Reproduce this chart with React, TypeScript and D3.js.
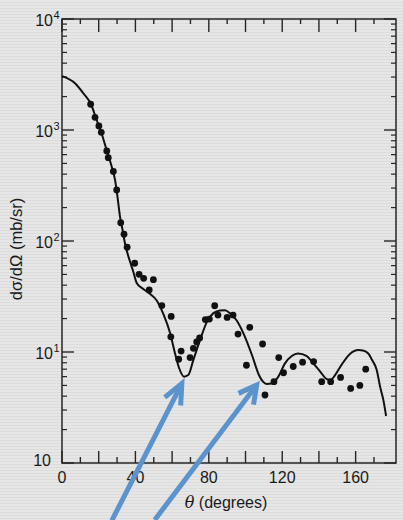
import React from "react";
import * as d3 from "d3";

// Observed cross sections (points)
const thetaObs = [15.6, 18.0, 20.1, 21.4, 24.4, 25.2, 28.0, 29.8, 32.0, 33.8, 35.5, 39.6, 42.0, 44.5, 49.8, 47.5, 54.4, 59.5, 59.3, 64.9, 63.6, 69.8, 71.6, 73.4, 75.0, 78.1, 80.3, 83.2, 85.0, 90.0, 93.2, 95.9, 102.3, 100.5, 109.3, 110.6, 115.5, 118.1, 120.7, 126.0, 131.1, 137.1, 141.5, 146.4, 151.8, 157.3, 162.3, 165.5];
const sigmaObs = [1706, 1301, 1087, 953, 647, 563, 423, 288, 146, 115, 87.8, 63, 50.1, 46.1, 44.8, 36.2, 26.2, 20.9, 13.7, 10.2, 8.6, 8.9, 10.8, 12.3, 13.4, 19.6, 19.8, 26.1, 21.5, 20.5, 21.5, 14.5, 16.7, 7.6, 11.8, 4.1, 5.4, 8.9, 6.5, 7.4, 8.1, 8.2, 5.4, 5.4, 5.9, 4.7, 5.0, 7.0];

// Calculated curve
const thetaCalc = [0, 7.1, 11.6, 15.8, 18.9, 21.5, 24.4, 27.1, 28.9, 30.1, 31.6, 33.0, 34.3, 37.1, 38.9, 40.7, 44.3, 48.0, 51.6, 55.2, 58.9, 61.6, 63.9, 66.5, 68.8, 71.6, 75.2, 78.9, 82.5, 86.1, 88.8, 91.6, 95.2, 98.8, 103.6, 107.3, 109.5, 111.6, 114.3, 117.9, 121.5, 125.2, 128.6, 133.4, 136.9, 140.6, 144.3, 146.4, 148.8, 152.4, 156.9, 161.5, 164.0, 166.9, 168.9, 171.5, 173.3, 175.1, 176.6];
const sigmaCalc = [3060, 2637, 2143, 1706, 1230, 940, 653, 467, 355, 260, 166, 126, 95.3, 65, 52.6, 41.9, 37.0, 33.3, 29.1, 22.0, 14.8, 9.7, 7.1, 6.0, 6.2, 8.5, 12.8, 18.6, 22.4, 23.7, 23.8, 22.3, 19.2, 14.8, 9.3, 6.2, 5.4, 5.15, 5.2, 6.0, 7.9, 9.2, 9.7, 9.2, 7.9, 6.7, 5.7, 5.6, 6.2, 7.7, 9.6, 10.4, 10.3, 9.7, 8.5, 6.9, 4.9, 3.7, 2.65];

// Axis ticks / labels
const xMajorTicks = [0, 20, 40, 60, 80, 100, 120, 140, 160];
const xMinorTicks = [10, 30, 50, 70, 90, 110, 130, 150, 170];
const xTickLabels = [0, 40, 80, 120, 160];
const yDecades = [1, 10, 100, 1000, 10000];
const yDecadeLabels = [
  { base: "10", sup: "" },
  { base: "10", sup: "1" },
  { base: "10", sup: "2" },
  { base: "10", sup: "3" },
  { base: "10", sup: "4" },
];
// Arrows point at the two minima of the calculated curve
const arrowTips = [
  { theta: 65.3, sigma: 5.2 },
  { theta: 106.1, sigma: 5.05 },
];

const W = 403;
const H = 520;
const L = 62, R = 396, T = 19, B = 463;
const FONT = "'Liberation Sans', Arial, Helvetica, sans-serif";
const AXIS = "#262626";
const ARROW = "#5b93cd";

export default function App() {
  const x = d3.scaleLinear().domain([0, 182]).range([L, R]);
  const y = d3.scaleLog().domain([1, 1e4]).range([B, T]);

  const minorY: number[] = [];
  for (let e = 0; e < 4; e++) {
    for (let m = 2; m <= 9; m++) minorY.push(m * Math.pow(10, e));
  }

  const line = d3
    .line<number>()
    .x((_, i) => x(thetaCalc[i]))
    .y((d) => y(d))
    .curve(d3.curveMonotoneX);

  const arrowDefs = [
    { tail: [-70, 137], a1: 22, a2: 22, spread: 24 },
    { tail: [-102, 135], a1: 20, a2: 20, spread: 28 },
  ];

  return (
    <svg
      width={W}
      height={H}
      style={{ position: "absolute", left: 0, top: 0, display: "block" }}
      fontFamily={FONT}
    >
      <defs>
        <pattern id="paper" width="6" height="3" patternUnits="userSpaceOnUse">
          <rect width="6" height="3" fill="#e6e6e6" />
          <rect y="2" width="6" height="1" fill="#dcdcdc" />
        </pattern>
      </defs>
      <rect width={W} height={H} fill="url(#paper)" />

      {/* frame */}
      <rect x={L} y={T} width={R - L} height={B - T} fill="none" stroke={AXIS} strokeWidth={1.5} />

      {/* x ticks, bottom & top */}
      {xMajorTicks.map((t) => (
        <g key={"xM" + t} stroke={AXIS} strokeWidth={1.4}>
          <line x1={x(t)} x2={x(t)} y1={B} y2={B - 12} />
          <line x1={x(t)} x2={x(t)} y1={T} y2={T + 13} />
        </g>
      ))}
      {xMinorTicks.map((t) => (
        <g key={"xm" + t} stroke={AXIS} strokeWidth={1.4}>
          <line x1={x(t)} x2={x(t)} y1={B} y2={B - 6} />
          <line x1={x(t)} x2={x(t)} y1={T} y2={T + 5} />
        </g>
      ))}

      {/* y ticks, left & right */}
      {yDecades.map((v) => (
        <g key={"yM" + v} stroke={AXIS} strokeWidth={1.4}>
          <line x1={L} x2={L + 12} y1={y(v)} y2={y(v)} />
          <line x1={R} x2={R - 12} y1={y(v)} y2={y(v)} />
        </g>
      ))}
      {minorY.map((v) => (
        <g key={"ym" + v} stroke={AXIS} strokeWidth={1.2}>
          <line x1={L} x2={L + 5} y1={y(v)} y2={y(v)} />
          <line x1={R} x2={R - 5} y1={y(v)} y2={y(v)} />
        </g>
      ))}

      {/* x tick labels */}
      {xTickLabels.map((t) => (
        <text key={"xl" + t} x={x(t)} y={483} textAnchor="middle" fontSize={16} fill="#1a1a1a">
          {t}
        </text>
      ))}

      {/* y tick labels */}
      {yDecades.map((v, i) =>
        yDecadeLabels[i].sup ? (
          <g key={"yl" + v} fill="#1a1a1a">
            <text x={53} y={y(v) + 6.5} textAnchor="end" fontSize={16}>
              {yDecadeLabels[i].base}
            </text>
            <text x={53.5} y={y(v) - 0.5} fontSize={11}>
              {yDecadeLabels[i].sup}
            </text>
          </g>
        ) : (
          <text key={"yl" + v} x={51} y={y(v) + 3} textAnchor="end" fontSize={16} fill="#1a1a1a">
            {yDecadeLabels[i].base}
          </text>
        )
      )}

      {/* axis titles */}
      <text
        transform={`translate(22, 249) rotate(-90)`}
        textAnchor="middle"
        fontSize={16.5}
        fill="#1a1a1a"
      >
        dσ/dΩ (mb/sr)
      </text>
      <text x={226} y={508} textAnchor="middle" fontSize={16} fill="#1a1a1a">
        <tspan fontStyle="italic" fontFamily="'DejaVu Serif', serif">θ</tspan> (degrees)
      </text>

      {/* calculated curve */}
      <path d={line(sigmaCalc) || ""} fill="none" stroke="#111" strokeWidth={2} />

      {/* observed points */}
      {thetaObs.map((t, i) => (
        <circle key={"p" + i} cx={x(t)} cy={y(sigmaObs[i])} r={3.4} fill="#111" />
      ))}

      {/* arrows */}
      {arrowTips.map((tip, i) => {
        const tx = x(tip.theta);
        const ty = y(tip.sigma);
        const def = arrowDefs[i];
        const [dx, dy] = def.tail;
        const ang = Math.atan2(dy, dx);
        const s = (def.spread * Math.PI) / 180;
        const p1 = [tx + def.a1 * Math.cos(ang - s), ty + def.a1 * Math.sin(ang - s)];
        const p2 = [tx + def.a2 * Math.cos(ang + s), ty + def.a2 * Math.sin(ang + s)];
        return (
          <g key={"ar" + i} stroke={ARROW} strokeWidth={5} fill="none">
            <line x1={tx + dx} y1={ty + dy} x2={tx + 2 * Math.cos(ang)} y2={ty + 2 * Math.sin(ang)} />
            <polyline
              points={`${p1[0]},${p1[1]} ${tx},${ty} ${p2[0]},${p2[1]}`}
              strokeLinejoin="miter"
            />
          </g>
        );
      })}
    </svg>
  );
}
